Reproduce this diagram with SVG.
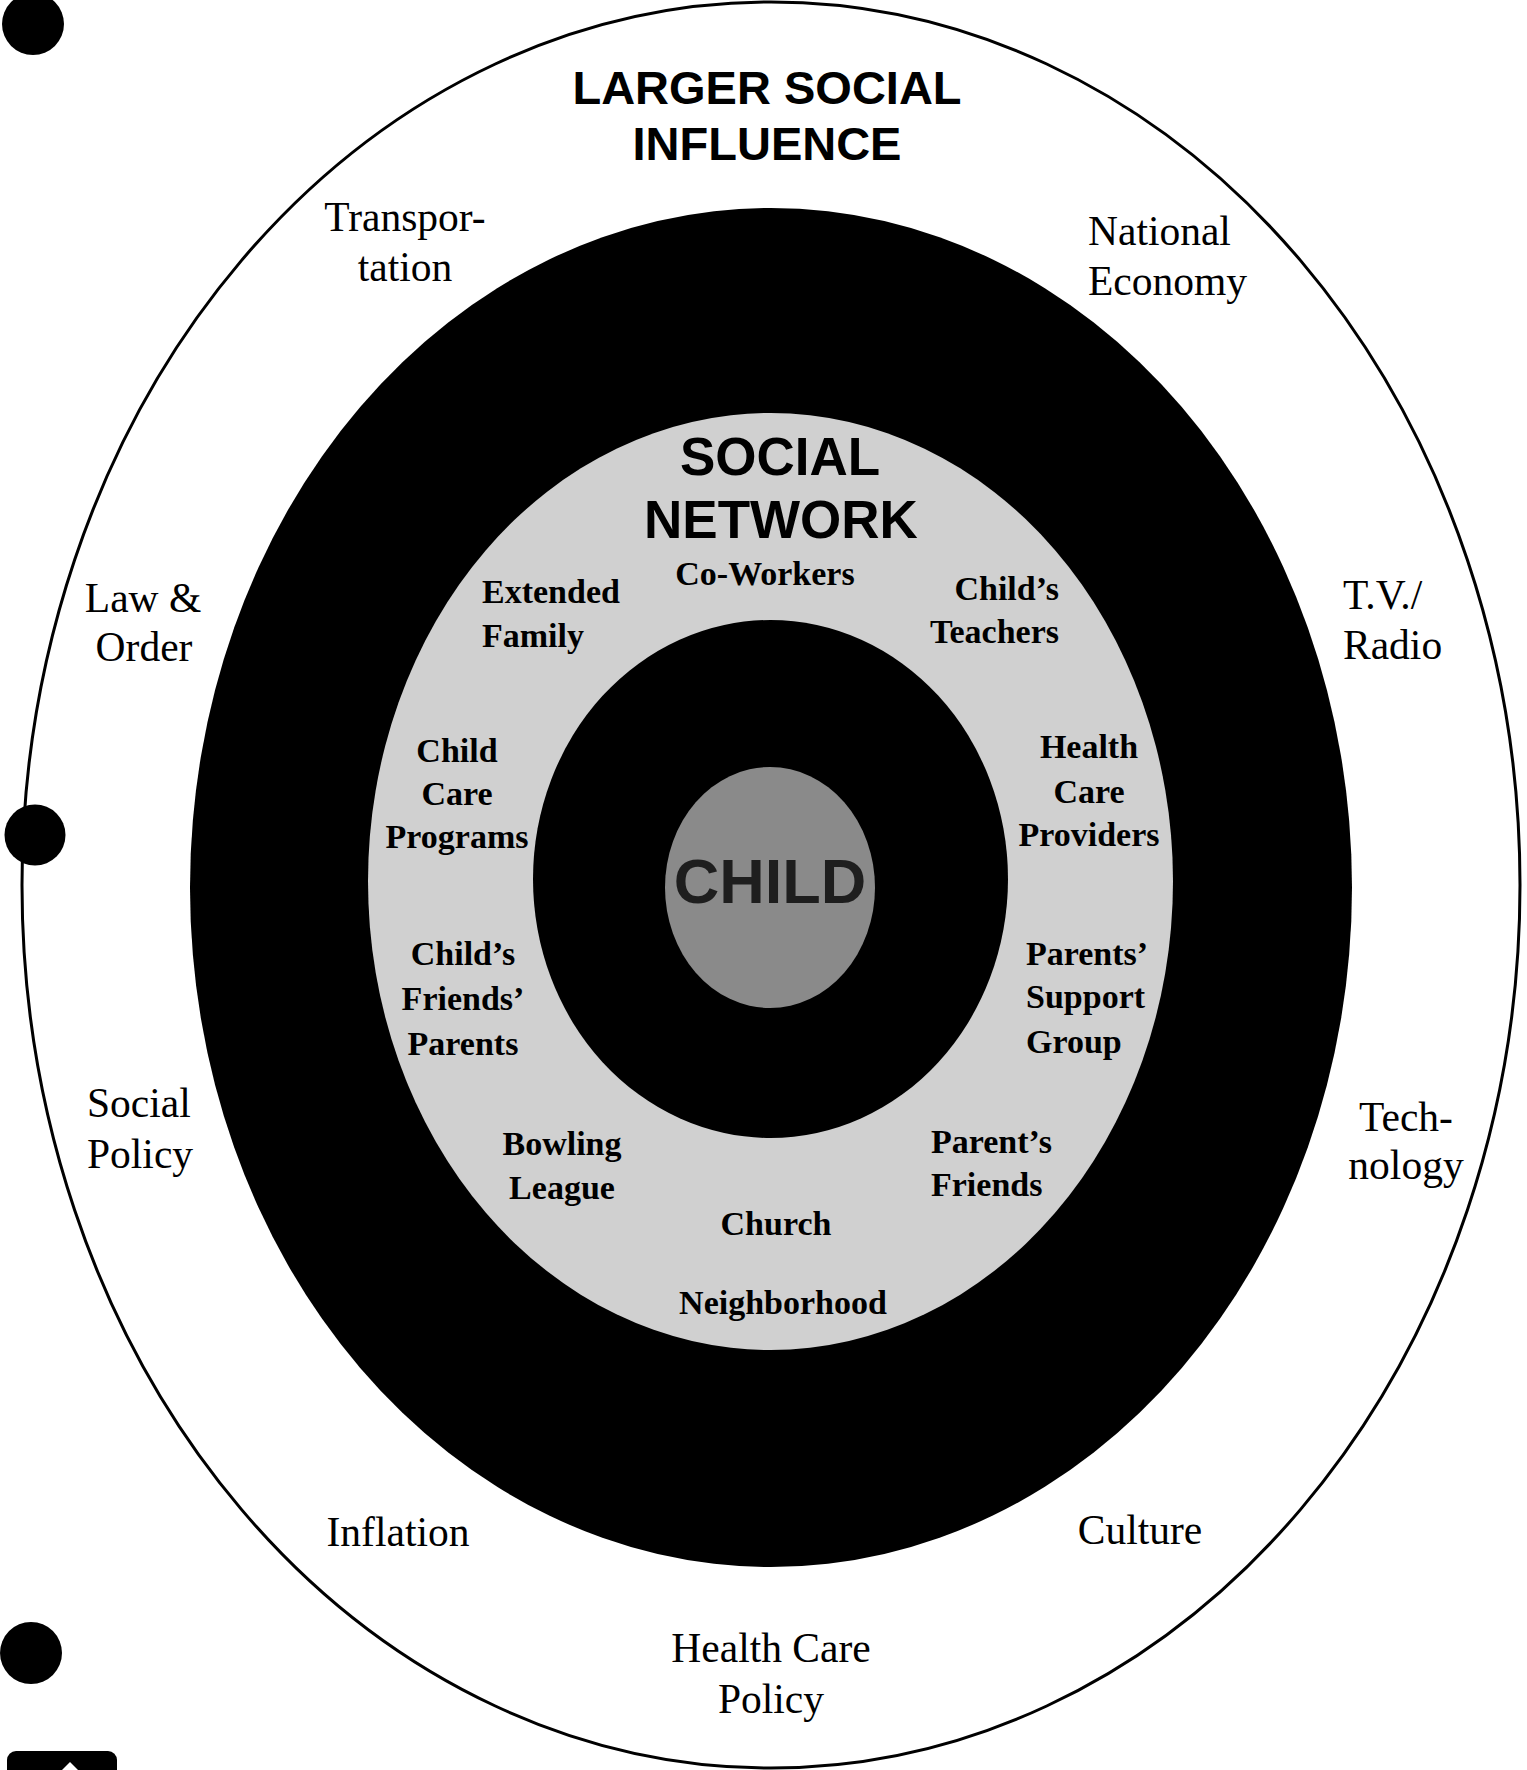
<svg xmlns="http://www.w3.org/2000/svg" width="1527" height="1770" viewBox="0 0 1527 1770">
  <style>
    .outer { font-family: "Liberation Serif", "Times New Roman", serif; font-size: 41.5px; fill: #000; }
    .net { font-family: "Liberation Serif", "Times New Roman", serif; font-size: 34px; font-weight: bold; fill: #000; }
    .title { font-family: "Liberation Sans", Arial, sans-serif; font-weight: bold; fill: #000; }
    .mid { text-anchor: middle; }
    .end { text-anchor: end; }
  </style>
  <rect x="0" y="0" width="1527" height="1770" fill="#fff"/>

  <g id="rings">
    <ellipse id="outer-ring" cx="771" cy="885" rx="749" ry="883" fill="#fff" stroke="#000" stroke-width="3"/>
    <ellipse id="black-ring" cx="771" cy="887.5" rx="581" ry="679.5" fill="#000"/>
    <ellipse id="network-ring" cx="770.5" cy="881.5" rx="402.5" ry="468.5" fill="#d0d0d0"/>
    <ellipse id="inner-ring" cx="770.5" cy="879" rx="237.5" ry="259" fill="#000"/>
    <ellipse id="child-circle" cx="770" cy="887.5" rx="105" ry="120.5" fill="#8a8a8a"/>
  </g>

  <g id="binder-marks">
    <circle cx="33" cy="24" r="31" fill="#000"/>
    <circle cx="35" cy="835" r="30.5" fill="#000"/>
    <circle cx="31" cy="1653" r="31" fill="#000"/>
    <rect x="7" y="1751" width="110" height="30" rx="9" fill="#000"/>
    <polygon points="61,1771 70,1762 79,1771" fill="#fff"/>
  </g>

  <g id="node-larger-social-influence">
    <text class="title mid" x="767" y="104" font-size="47">LARGER SOCIAL</text>
    <text class="title mid" x="767" y="160" font-size="47">INFLUENCE</text>
  </g>
  <g id="node-transportation">
    <text class="outer mid" x="405" y="231">Transpor-</text>
    <text class="outer mid" x="405" y="281">tation</text>
  </g>
  <g id="node-national-economy">
    <text class="outer" x="1088" y="245">National</text>
    <text class="outer" x="1088" y="295">Economy</text>
  </g>
  <g id="node-law-order">
    <text class="outer mid" x="143" y="612">Law &amp;</text>
    <text class="outer mid" x="144" y="661">Order</text>
  </g>
  <g id="node-tv-radio">
    <text class="outer" x="1343" y="609">T.V./</text>
    <text class="outer" x="1343" y="659">Radio</text>
  </g>
  <g id="node-social-policy">
    <text class="outer" x="87" y="1117">Social</text>
    <text class="outer" x="87" y="1168">Policy</text>
  </g>
  <g id="node-technology">
    <text class="outer mid" x="1406" y="1131">Tech-</text>
    <text class="outer mid" x="1406" y="1179">nology</text>
  </g>
  <g id="node-inflation">
    <text class="outer mid" x="398" y="1546">Inflation</text>
  </g>
  <g id="node-culture">
    <text class="outer mid" x="1140" y="1544">Culture</text>
  </g>
  <g id="node-health-care-policy">
    <text class="outer mid" x="771" y="1662">Health Care</text>
    <text class="outer mid" x="771" y="1713">Policy</text>
  </g>

  <g id="node-social-network">
    <text class="title mid" x="780" y="475" font-size="53">SOCIAL</text>
    <text class="title mid" x="781" y="538" font-size="53">NETWORK</text>
  </g>
  <g id="node-co-workers">
    <text class="net mid" x="765" y="585">Co-Workers</text>
  </g>
  <g id="node-extended-family">
    <text class="net" x="482" y="603">Extended</text>
    <text class="net" x="482" y="647">Family</text>
  </g>
  <g id="node-childs-teachers">
    <text class="net end" x="1059" y="600">Child’s</text>
    <text class="net end" x="1059" y="643">Teachers</text>
  </g>
  <g id="node-child-care-programs">
    <text class="net mid" x="457" y="762">Child</text>
    <text class="net mid" x="457" y="805">Care</text>
    <text class="net mid" x="457" y="848">Programs</text>
  </g>
  <g id="node-health-care-providers">
    <text class="net mid" x="1089" y="758">Health</text>
    <text class="net mid" x="1089" y="803">Care</text>
    <text class="net mid" x="1089" y="846">Providers</text>
  </g>
  <g id="node-childs-friends-parents">
    <text class="net mid" x="463" y="965">Child’s</text>
    <text class="net mid" x="463" y="1010">Friends’</text>
    <text class="net mid" x="463" y="1055">Parents</text>
  </g>
  <g id="node-parents-support-group">
    <text class="net" x="1026" y="965">Parents’</text>
    <text class="net" x="1026" y="1008">Support</text>
    <text class="net" x="1026" y="1053">Group</text>
  </g>
  <g id="node-bowling-league">
    <text class="net mid" x="562" y="1155">Bowling</text>
    <text class="net mid" x="562" y="1199">League</text>
  </g>
  <g id="node-parents-friends">
    <text class="net" x="931" y="1153">Parent’s</text>
    <text class="net" x="931" y="1196">Friends</text>
  </g>
  <g id="node-church">
    <text class="net mid" x="776" y="1235">Church</text>
  </g>
  <g id="node-neighborhood">
    <text class="net mid" x="783" y="1314">Neighborhood</text>
  </g>

  <g id="node-child">
    <text class="title mid" x="770" y="903" font-size="63" style="fill:#1e1e1e">CHILD</text>
  </g>
</svg>
